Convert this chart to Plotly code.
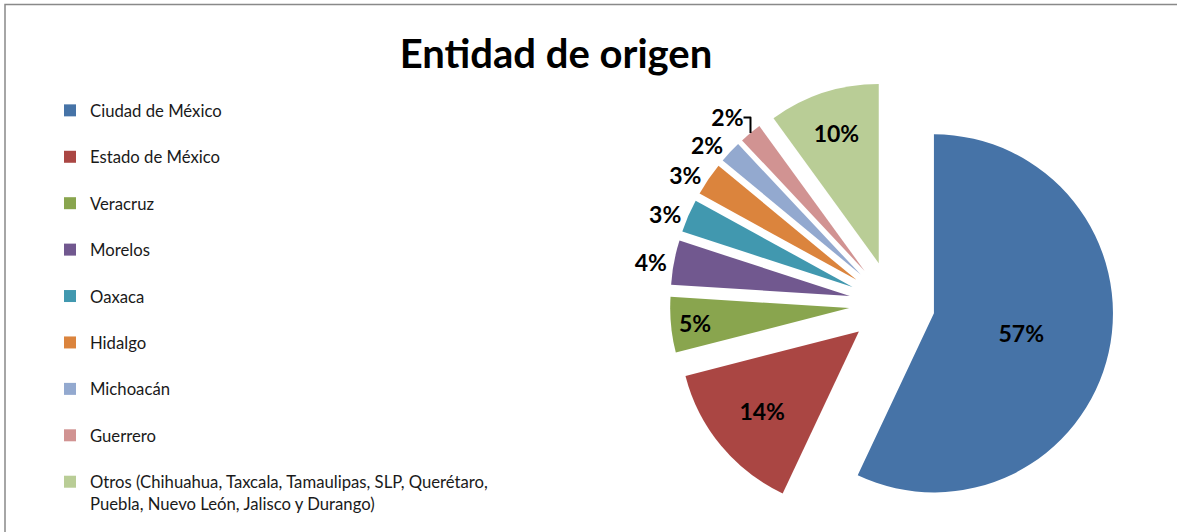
import plotly.graph_objects as go

names = ["Ciudad de México", "Estado de México", "Veracruz", "Morelos", "Oaxaca",
         "Hidalgo", "Michoacán", "Guerrero",
         "Otros (Chihuahua, Taxcala, Tamaulipas, SLP, Querétaro,<br>Puebla, Nuevo León, Jalisco y Durango)"]
values = [57, 14, 5, 4, 3, 3, 2, 2, 10]
colors = ["#4673A7", "#AA4643", "#89A54E", "#71588F", "#4198AF",
          "#DB843D", "#93A9CF", "#D19392", "#B9CD96"]
text_pos = ["inside", "inside", "inside", "outside", "outside",
            "outside", "outside", "outside", "inside"]

W, H = 1177, 532

legend_labels = [n if "<br>" in n else n + "<br>&nbsp;" for n in names]

fig = go.Figure(go.Pie(
    labels=legend_labels,
    values=values,
    marker=dict(colors=colors, line=dict(width=0)),
    sort=False,
    direction="clockwise",
    rotation=0,
    pull=[0.24] * len(values),
    textinfo="percent",
    textposition=text_pos,
    insidetextorientation="horizontal",
    textfont=dict(family="Lato", size=23, color="black", weight="bold"),
    domain=dict(x=[(892 - 222) / W, (892 + 222) / W], y=[6 / H, 450 / H]),
    showlegend=True,
))

fig.update_layout(
    width=W, height=H,
    margin=dict(l=0, r=0, t=0, b=0, autoexpand=False),
    paper_bgcolor="white",
    title=dict(text="<b>Entidad de origen</b>", x=556 / W, xanchor="center",
               y=1 - 54 / H, yanchor="middle",
               font=dict(family="Lato", size=40, color="black")),
    legend=dict(x=50 / W, xanchor="left", y=1 - 93 / H, yanchor="top",
                font=dict(family="Lato", size=16.7, color="#1a1a1a"),
                valign="top", traceorder="normal", bgcolor="rgba(0,0,0,0)"),
    shapes=[dict(type="rect", xref="paper", yref="paper",
                 x0=5 / W, x1=1.05, y0=-0.05, y1=1 - 4.5 / H,
                 line=dict(color="#898989", width=1.5))],
)

fig.write_html("out.html", config={"displayModeBar": False},
               post_script="document.body.style.margin='0';")
